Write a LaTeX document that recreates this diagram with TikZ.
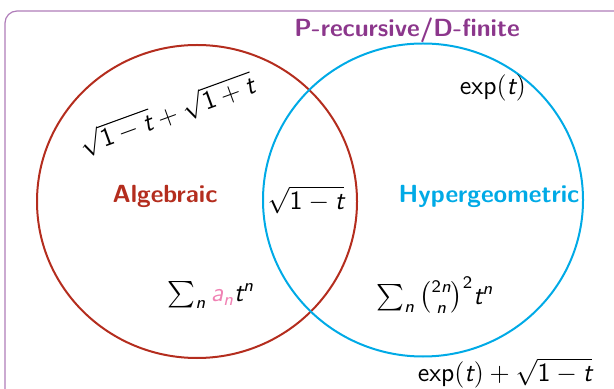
\documentclass[tikz,border=0pt]{standalone}
\usepackage{amsmath,amssymb}
\usepackage{graphicx}
\usepackage{xcolor}
\usepackage{tikz}
\usetikzlibrary{shapes.geometric}
\usetikzlibrary{positioning}
\renewcommand{\familydefault}{\sfdefault}
\definecolor{algred}{RGB}{180,45,30}
\definecolor{hypblue}{RGB}{0,170,230}
\definecolor{recpurple}{RGB}{140,55,140}
\definecolor{framepurple}{RGB}{175,125,185}
\definecolor{coefpink}{RGB}{240,130,180}
\newcommand{\vt}{\text{\itshape t}}
\newcommand{\vn}{\text{\itshape n}}
\newcommand{\va}{\text{\itshape a}}
\newcommand{\sone}{\mathsf{1}}
\newcommand{\bigmath}[1]{\scalebox{1.1}{$#1$}}

\begin{document}
\begin{tikzpicture}[
    x=0.5pt, y=-0.5pt,
    every node/.style={inner sep=0.5pt, font=\fontsize{12}{14}\selectfont},
    set circle/.style={ellipse, draw, line width=1pt, minimum width=160pt, minimum height=156.5pt, inner sep=0pt},
    set label/.style={font=\fontsize{12.4}{14}\selectfont\bfseries},
  ]
  \useasboundingbox (0,0) rectangle (614,389);

  \draw[framepurple, line width=0.6pt, rounded corners=6pt] (5,11) rectangle (660,430);
  \node[recpurple, anchor=base, font=\fontsize{12.4}{14}\selectfont\bfseries] (title) at (407,37) {P-recursive/D-finite};

  \node[set circle, draw=algred] (alg) at (197,201.5) {};
  \node[set circle, draw=hypblue] (hyp) at (423,200) {};

  \node[set label, algred] (alglabel) at (165,196) {Algebraic};
  \node[set label, hypblue] (hyplabel) at (489,196) {Hypergeometric};

  \node (both)   at (306,200) {\bigmath{\sqrt{\sone-\vt}}};
  \node[rotate=20] (algex) at (167,115) {\bigmath{\sqrt{\sone-\vt}+\sqrt{\sone+\vt}}};
  \node (algsum) at (211,295) {\bigmath{\sum_{\vn}\textcolor{coefpink}{\va_{\vn}}\vt^{\vn}}};
  \node (hypsum) at (435,295) {\bigmath{\sum_{\vn}\binom{\mathsf{2}\vn}{\vn}^{\mathsf{2}}\vt^{\vn}}};
  \node (hypex)  at (493,88)  {\bigmath{\mathsf{exp}(\vt)}};
  \node (recex)  at (505,373) {\bigmath{\mathsf{exp}(\vt)+\sqrt{\sone-\vt}}};

\end{tikzpicture}
\end{document}
